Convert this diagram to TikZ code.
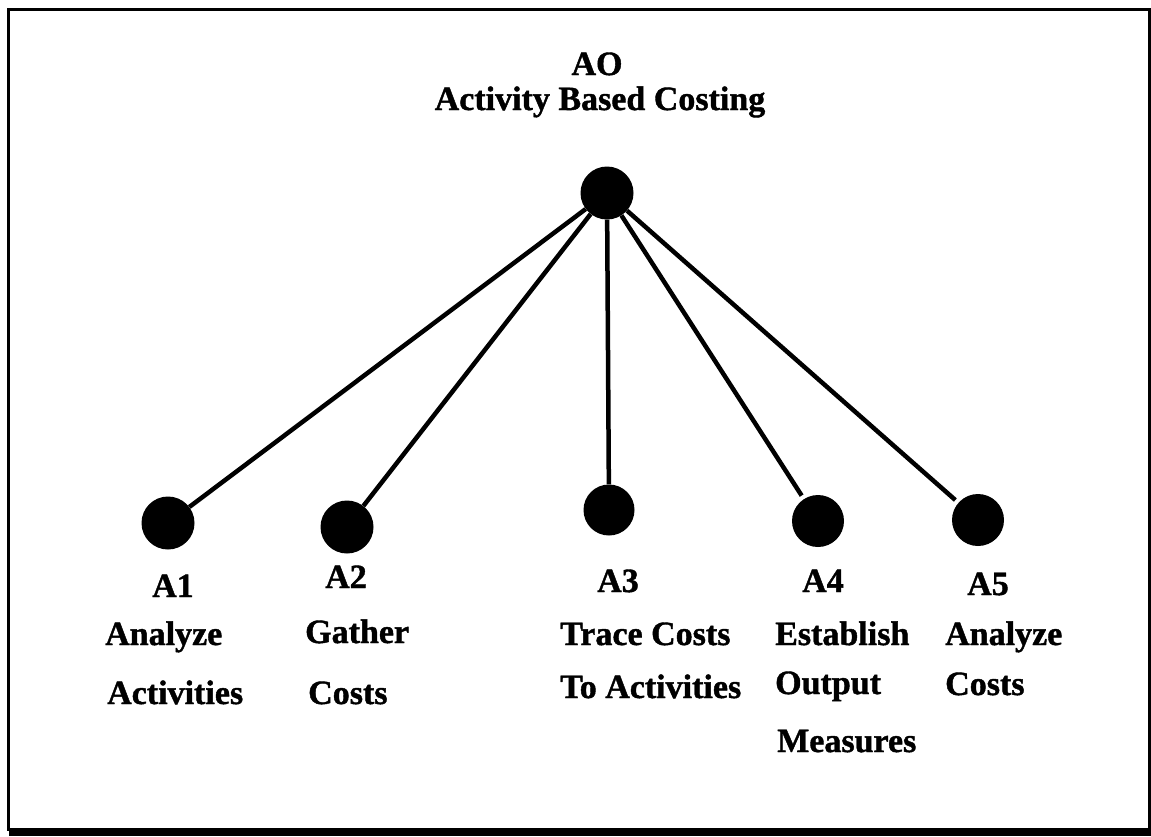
\documentclass[tikz,border=0pt]{standalone}
\usepackage{fontspec}
\setmainfont[BoldFeatures={FakeBold=1.2}]{Liberation Serif}
\begin{document}
\begin{tikzpicture}[x=1pt,y=-1pt,
  dot/.style={circle,fill=black,draw=none,minimum size=53pt,inner sep=0pt},
  link/.style={line width=4.5pt},
  lbl/.style={anchor=base west,inner sep=0pt,font=\fontsize{34}{40}\selectfont\bfseries},
  ttl/.style={anchor=base,inner sep=0pt,font=\fontsize{34}{40}\selectfont\bfseries}]
\useasboundingbox (0,0) rectangle (1151,836);
% frame with heavier lower edge
\draw[line width=3pt] (8.5,9) rectangle (1149,829);
\draw[line width=7pt] (8.5,832) -- (1150.5,832);

% root
\node[ttl] (t0) at (597,75) {AO};
\node[ttl] (t1) at (600,110) {Activity Based Costing};
\node[dot] (a0) at (607,193) {};

% children
\node[dot] (a1) at (168,523) {};
\node[dot] (a2) at (347,527) {};
\node[dot,minimum width=48pt,minimum height=51pt] (a3) at (609,510) {};
\node[dot,minimum width=48pt,minimum height=52pt] (a4) at (818,521) {};
\node[dot,minimum width=48pt,minimum height=52pt] (a5) at (978,520) {};

\draw[link] (a0) -- (a1);
\draw[link] (a0) -- (a2);
\draw[link] (a0) -- (a3);
\draw[link,shorten >=4pt] (a0) -- (a4);
\draw[link,shorten >=4pt] (a0) -- (a5);

% labels
\node[lbl] (l1a) at (152,597) {A1};
\node[lbl] (l1b) at (105,645) {Analyze};
\node[lbl] (l1c) at (107,704) {Activities};

\node[lbl] (l2a) at (325,588) {A2};
\node[lbl] (l2b) at (305,643) {Gather};
\node[lbl] (l2c) at (308,704) {Costs};

\node[lbl] (l3a) at (597,592) {A3};
\node[lbl] (l3b) at (560,645) {Trace Costs};
\node[lbl] (l3c) at (560,698) {To Activities};

\node[lbl] (l4a) at (802,592) {A4};
\node[lbl] (l4b) at (775,645) {Establish};
\node[lbl] (l4c) at (775,694) {Output};
\node[lbl] (l4d) at (777,752) {Measures};

\node[lbl] (l5a) at (967,595) {A5};
\node[lbl] (l5b) at (945,645) {Analyze};
\node[lbl] (l5c) at (945,695) {Costs};
\end{tikzpicture}
\end{document}
